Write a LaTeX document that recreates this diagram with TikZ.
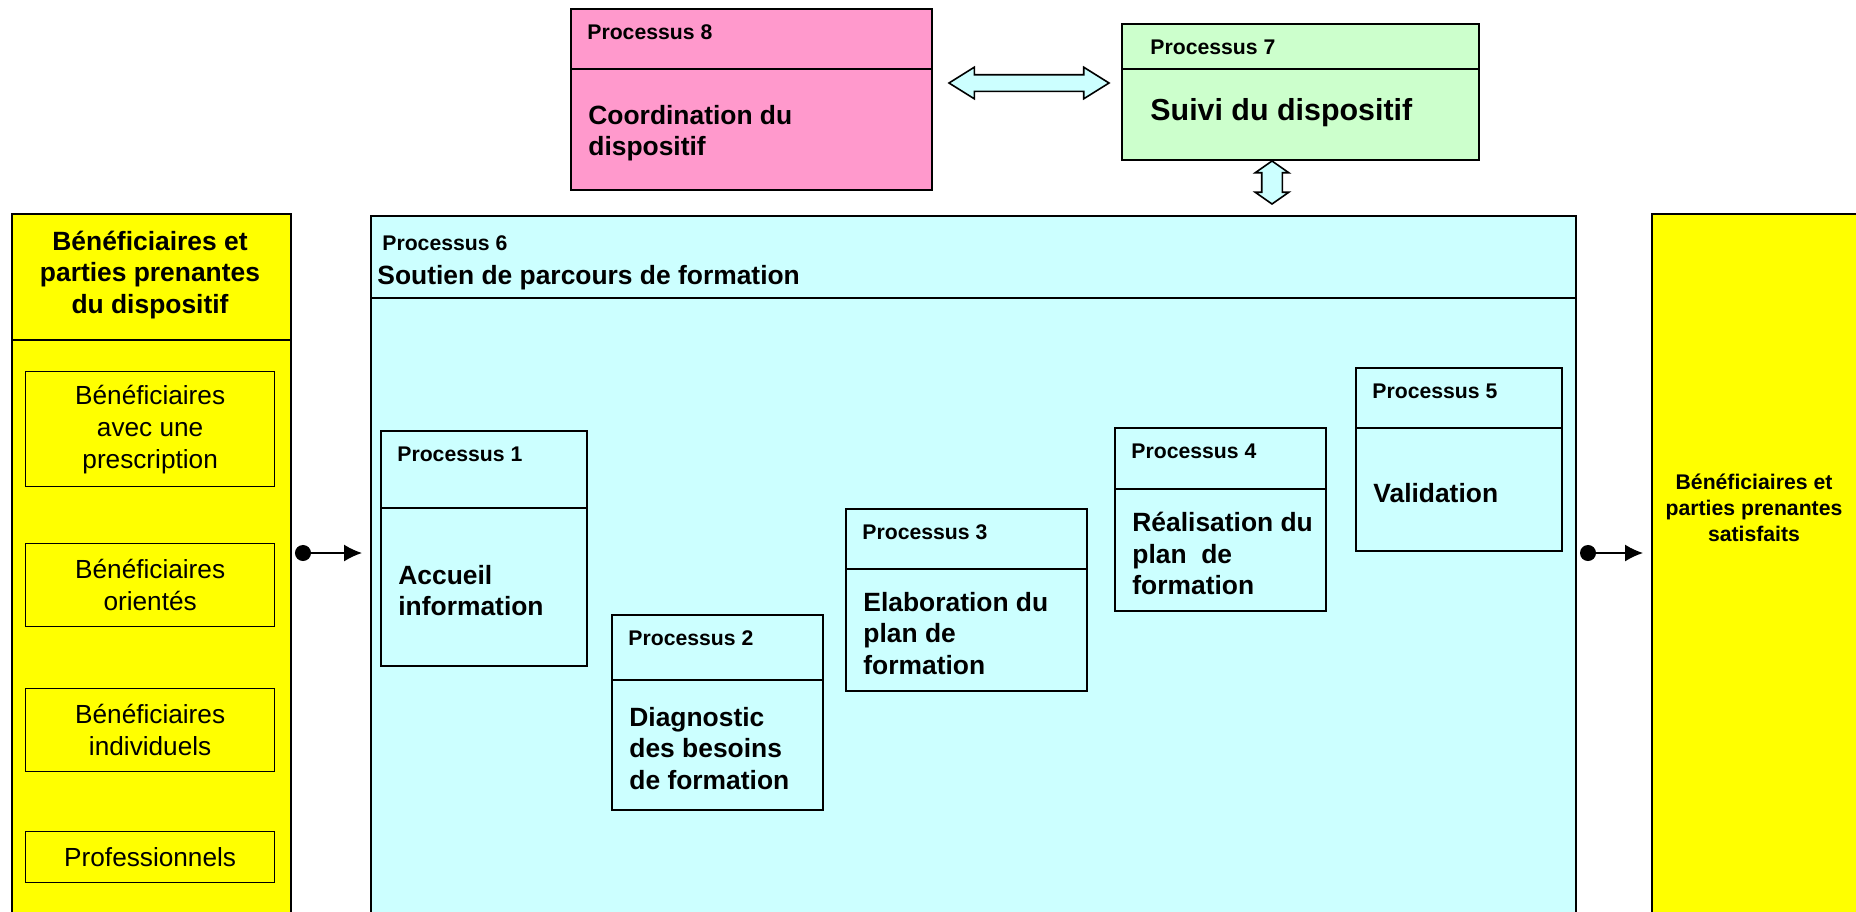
\documentclass[tikz,border=0pt]{standalone}
\usepackage{fontspec}
\setmainfont{Liberation Sans}
\usetikzlibrary{arrows.meta,shapes.arrows,positioning}

\definecolor{procfill}{HTML}{CCFFFF}
\definecolor{coordfill}{HTML}{FF99CC}
\definecolor{suivifill}{HTML}{CCFFCC}
\definecolor{benefyellow}{HTML}{FFFF00}

\tikzset{
  procbox/.style={draw, line width=1pt, fill=procfill, anchor=north west, inner sep=0},
  benefbox/.style={draw, line width=1pt, fill=benefyellow, anchor=north west, inner sep=0},
  subbox/.style={draw, line width=0.65pt, anchor=north west, minimum width=124.5pt, inner sep=0, align=center,
    font=\fontsize{13.1}{16}\selectfont},
  proclabel/.style={inner sep=0, font=\fontsize{10.6}{12.7}\selectfont\bfseries},
  proctext/.style={inner sep=0, align=left, font=\fontsize{13.2}{15.8}\selectfont\bfseries},
  headtext/.style={inner sep=0, align=center, font=\fontsize{13.2}{15.8}\selectfont\bfseries},
  sattext/.style={inner sep=0, align=center, font=\fontsize{10.6}{13}\selectfont\bfseries},
  linkarrow/.style={shape=double arrow, draw, line width=0.8pt, fill=procfill, inner xsep=0},
  flow/.style={line width=0.75pt, {Circle[length=8pt]}-{Latex[length=9pt,width=8.5pt]}, shorten <=1.5pt, shorten >=4pt}
}

\begin{document}
\begin{tikzpicture}[x=0.5pt, y=-0.5pt]
  \clip (0,0) rectangle (1856,911);

  % entree : beneficiaires et parties prenantes
  \node[benefbox, minimum width=139.5pt, minimum height=358.5pt] (benef) at (11,213) {};
  \draw[line width=1pt] (benef.north west) ++(0,127) -- ++(279,0);
  \node[headtext] (beneftitle) at (150,275) {Bénéficiaires et\\parties prenantes\\du dispositif};
  \foreach \i/\y/\h/\t in {1/371/115/{Bénéficiaires\\avec une\\prescription}, 2/543/83/{Bénéficiaires\\orientés},
                          3/688/83/{Bénéficiaires\\individuels}, 4/831/51/{Professionnels}}
    \node[subbox, minimum height=\h*0.5pt] (benef\i) at (25,\y) {\t};

  % processus 6
  \node[procbox, minimum width=602.5pt, minimum height=357.5pt] (p6) at (370,215) {};
  \draw[line width=1pt] (p6.north west) ++(0,83) -- ++(1205,0);
  \path (p6.north west) ++(12,35) node[proclabel, anchor=base west] (p6 label) {Processus 6};
  \path (p6.north west) ++(7,69) node[proctext, anchor=base west] (p6 text) {Soutien de parcours de formation};

  % processus 1 a 5 et 8
  \foreach \n/\x/\y/\w/\h/\d/\c/\t in {
      1/380/430/206/235/78/procfill/{Accueil\\information},
      2/611/614/211/195/66/procfill/{Diagnostic\\des besoins\\de formation},
      3/845/508/241/182/61/procfill/{Elaboration du\\plan de\\formation},
      4/1114/427/211/183/62/procfill/{Réalisation du\\plan~ de\\formation},
      5/1355/367/206/183/61/procfill/{Validation},
      8/570/8/361/181/61/coordfill/{Coordination du\\dispositif}}{
    \node[procbox, fill=\c, minimum width=\w*0.5pt, minimum height=\h*0.5pt] (p\n) at (\x,\y) {};
    \draw[line width=1pt] (p\n.north west) ++(0,\d) -- ++(\w,0);
    \path (p\n.north west) ++(17,31) node[proclabel, anchor=base west] (p\n label) {Processus \n};
    \path (p\n.north west) ++(18,{\d+(\h-\d)/2+4}) node[proctext, anchor=west] (p\n text) {\t};
  }

  % processus 7
  \node[procbox, fill=suivifill, minimum width=178.5pt, minimum height=68pt] (p7) at (1121,23) {};
  \draw[line width=1pt] (p7.north west) ++(0,46) -- ++(357,0);
  \path (p7.north west) ++(29,31) node[proclabel, anchor=base west] (p7 label) {Processus 7};
  \path (p7.north west) ++(29,97) node[proctext, font=\fontsize{15.2}{18}\selectfont\bfseries, anchor=base west] (p7 text) {Suivi du dispositif};

  % sortie
  \node[benefbox, minimum width=109.5pt, minimum height=358.5pt] (sat) at (1651,213) {};
  \node[sattext] (sattitle) at (1754,508) {Bénéficiaires et\\parties prenantes\\satisfaits};

  % liaisons
  \node[linkarrow, minimum height=80pt, minimum width=15pt, inner ysep=3.75pt,
        double arrow head extend=3.75pt, double arrow tip angle=64] (link87) at (1029,83) {};
  \node[linkarrow, rotate=90, minimum height=21.5pt, minimum width=16pt, inner ysep=4.75pt,
        double arrow head extend=3.25pt, double arrow tip angle=110] (link76) at (1272,182.5) {};
  \coordinate (flowy) at (0,553);
  \draw[flow] (benef.east |- flowy) -- (p6.west |- flowy);
  \draw[flow] (p6.east |- flowy) -- (sat.west |- flowy);
\end{tikzpicture}
\end{document}
